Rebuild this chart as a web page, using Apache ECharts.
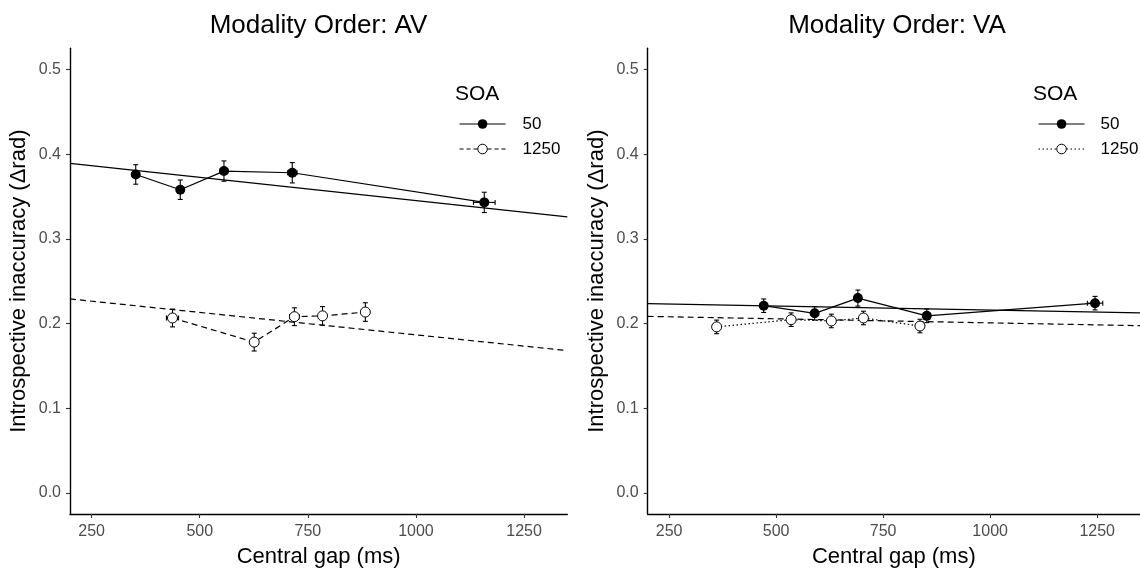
<!DOCTYPE html>
<html>
<head>
<meta charset="utf-8">
<script src="https://cdn.jsdelivr.net/npm/echarts@6/dist/echarts.min.js"></script>
<style>
  html, body { margin: 0; padding: 0; background: #fff; }
  #chart { width: 1140px; height: 573px; }
</style>
</head>
<body>
<div id="chart"></div>
<script>
// ---- data ----
const panelTitles = ['Modality Order: AV', 'Modality Order: VA'];
const soaLevels = ['50', '1250'];
const xTicks = [250, 500, 750, 1000, 1250];
const yTicks = [0, 0.1, 0.2, 0.3, 0.4, 0.5];
const fitGap = [200, 1350];

// Modality order AV, SOA 50
const avGap50 = [352, 455, 556, 714, 1158];
const avAcc50 = [0.376, 0.358, 0.380, 0.378, 0.343];
const avAccErr50 = [0.0115, 0.0115, 0.012, 0.012, 0.012];
const avGapErr50 = [4, 4, 9, 11, 25];
const avFit50 = [0.389, 0.326];

// Modality order AV, SOA 1250
const avGap1250 = [437, 626, 719, 784, 883];
const avAcc1250 = [0.2065, 0.178, 0.208, 0.209, 0.2135];
const avAccErr1250 = [0.0105, 0.0105, 0.0105, 0.011, 0.011];
const avGapErr1250 = [14, 6, 11, 5, 5];
const avFit1250 = [0.229, 0.168];

// Modality order VA, SOA 50
const vaGap50 = [471, 590, 691, 852, 1245];
const vaAcc50 = [0.221, 0.212, 0.230, 0.209, 0.224];
const vaAccErr50 = [0.008, 0.008, 0.0095, 0.008, 0.008];
const vaGapErr50 = [5, 5, 5, 8, 18];
const vaFit50 = [0.2235, 0.2126];

// Modality order VA, SOA 1250
const vaGap1250 = [361, 535, 629, 704, 836];
const vaAcc1250 = [0.196, 0.2045, 0.203, 0.2065, 0.197];
const vaAccErr1250 = [0.008, 0.008, 0.008, 0.008, 0.008];
const vaGapErr1250 = [5, 5, 5, 5, 5];
const vaFit1250 = [0.2084, 0.1974];

// ---- styling helpers ----
const FONT = '"Liberation Sans", Arial, Helvetica, sans-serif';
const INK = '#000';
const DASH = [6, 4];
const DOT = [1.5, 2.5];

const pairs = (xs, ys) => xs.map((x, i) => [x, ys[i]]);

function dataLine(name, panel, gap, acc, filled, dashType) {
  return {
    name, type: 'line', xAxisIndex: panel, yAxisIndex: panel, z: 4,
    data: pairs(gap, acc),
    symbol: 'circle', symbolSize: 10, showSymbol: true,
    itemStyle: filled ? { color: INK, borderColor: INK, borderWidth: 0 }
                      : { color: '#fff', borderColor: INK, borderWidth: 1 },
    lineStyle: { color: INK, width: 1.2, type: dashType || 'solid' },
    emphasis: { disabled: true }
  };
}

function fitLine(panel, values, dashType) {
  return {
    name: 'fit', type: 'line', xAxisIndex: panel, yAxisIndex: panel, z: 2,
    data: pairs(fitGap, values), symbol: 'none', silent: true,
    lineStyle: { color: INK, width: 1.2, type: dashType || 'solid' },
    emphasis: { disabled: true }
  };
}

function errorBars(panel, gap, acc, gapErr, accErr) {
  const data = gap.map((g, i) => [g, acc[i], acc[i] - accErr[i], acc[i] + accErr[i], g - gapErr[i], g + gapErr[i]]);
  return {
    name: 'err', type: 'custom', xAxisIndex: panel, yAxisIndex: panel, z: 3, silent: true,
    encode: { x: [0, 4, 5], y: [1, 2, 3] },
    data,
    renderItem(params, api) {
      const x = api.value(0), y = api.value(1);
      const lo = api.coord([x, api.value(2)]);
      const hi = api.coord([x, api.value(3)]);
      const lf = api.coord([api.value(4), y]);
      const rt = api.coord([api.value(5), y]);
      const c = 2.5;
      const st = { stroke: INK, lineWidth: 1.1, fill: null };
      const seg = (x1, y1, x2, y2) => ({ type: 'line', shape: { x1, y1, x2, y2 }, style: st });
      return {
        type: 'group',
        children: [
          seg(lo[0], lo[1], hi[0], hi[1]),
          seg(lo[0] - c, lo[1], lo[0] + c, lo[1]),
          seg(hi[0] - c, hi[1], hi[0] + c, hi[1]),
          seg(lf[0], lf[1], rt[0], rt[1]),
          seg(lf[0], lf[1] - c, lf[0], lf[1] + c),
          seg(rt[0], rt[1] - c, rt[0], rt[1] + c)
        ]
      };
    }
  };
}

function xAxis(panel) {
  return {
    gridIndex: panel, type: 'value', min: 200, max: 1350,
    axisLine: { onZero: false, lineStyle: { color: INK, width: 1.4 } },
    axisTick: { customValues: xTicks, length: 4, lineStyle: { color: '#333', width: 1.1 } },
    axisLabel: { customValues: xTicks, color: '#4D4D4D', fontSize: 16, fontFamily: FONT, margin: 10,
                 formatter: v => String(v) },
    splitLine: { show: false },
    name: 'Central gap (ms)', nameLocation: 'middle', nameGap: 32,
    nameTextStyle: { color: INK, fontSize: 22, fontFamily: FONT }
  };
}

function yAxis(panel) {
  return {
    gridIndex: panel, type: 'value', min: -0.025, max: 0.525,
    axisLine: { onZero: false, lineStyle: { color: INK, width: 1.4 } },
    axisTick: { customValues: yTicks, length: 4, lineStyle: { color: '#333', width: 1.1 } },
    axisLabel: { customValues: yTicks, color: '#4D4D4D', fontSize: 16, fontFamily: FONT, margin: 9,
                 formatter: v => v.toFixed(1) },
    splitLine: { show: false },
    name: 'Introspective inaccuracy (\u0394rad)', nameLocation: 'middle', nameGap: 40, nameRotate: 90,
    nameTextStyle: { color: INK, fontSize: 22, fontFamily: FONT }
  };
}

function legend(left, textPad, dotted) {
  return {
    orient: 'vertical', left, top: 115.5, padding: 0,
    itemWidth: 46, itemHeight: 12, itemGap: 8,
    selectedMode: false,
    lineStyle: { width: 1.1 },
    itemStyle: { borderWidth: 1 },
    textStyle: { color: INK, fontSize: 17, lineHeight: 17, fontFamily: FONT, padding: [0, 0, 0, textPad] },
    data: [
      { name: soaLevels[0], itemStyle: { borderWidth: 0 } },
      dotted ? { name: soaLevels[1], lineStyle: { type: DOT } } : { name: soaLevels[1], lineStyle: { type: [4, 3] } }
    ]
  };
}

const titleStyle = { color: INK, fontSize: 26, fontWeight: 'normal', fontFamily: FONT };
const soaStyle = { color: INK, fontSize: 21, fontWeight: 'normal', fontFamily: FONT };

const option = {
  animation: false,
  backgroundColor: '#fff',
  title: [
    { text: panelTitles[0], left: 318.5, top: 13, textAlign: 'center', padding: 0, textStyle: titleStyle },
    { text: panelTitles[1], left: 897, top: 13, textAlign: 'center', padding: 0, textStyle: titleStyle },
    { text: 'SOA', left: 455, top: 83.5, padding: 0, textStyle: soaStyle },
    { text: 'SOA', left: 1033, top: 83.5, padding: 0, textStyle: soaStyle }
  ],
  legend: [legend(459, 12, false), legend(1038, 11, true)],
  grid: [
    { left: 70, top: 48.3, width: 497.3, height: 470 },
    { left: 647.7, top: 48.3, width: 498, height: 470 }
  ],
  xAxis: [xAxis(0), xAxis(1)],
  yAxis: [yAxis(0), yAxis(1)],
  series: [
    // AV panel
    fitLine(0, avFit50, 'solid'),
    fitLine(0, avFit1250, DASH),
    errorBars(0, avGap50, avAcc50, avGapErr50, avAccErr50),
    errorBars(0, avGap1250, avAcc1250, avGapErr1250, avAccErr1250),
    dataLine(soaLevels[0], 0, avGap50, avAcc50, true, 'solid'),
    dataLine(soaLevels[1], 0, avGap1250, avAcc1250, false, DASH),
    // VA panel
    fitLine(1, vaFit50, 'solid'),
    fitLine(1, vaFit1250, DASH),
    errorBars(1, vaGap50, vaAcc50, vaGapErr50, vaAccErr50),
    errorBars(1, vaGap1250, vaAcc1250, vaGapErr1250, vaAccErr1250),
    dataLine(soaLevels[0], 1, vaGap50, vaAcc50, true, 'solid'),
    dataLine(soaLevels[1], 1, vaGap1250, vaAcc1250, false, DOT)
  ]
};

const chart = echarts.init(document.getElementById('chart'), null, { renderer: 'canvas' });
chart.setOption(option);
</script>
</body>
</html>
